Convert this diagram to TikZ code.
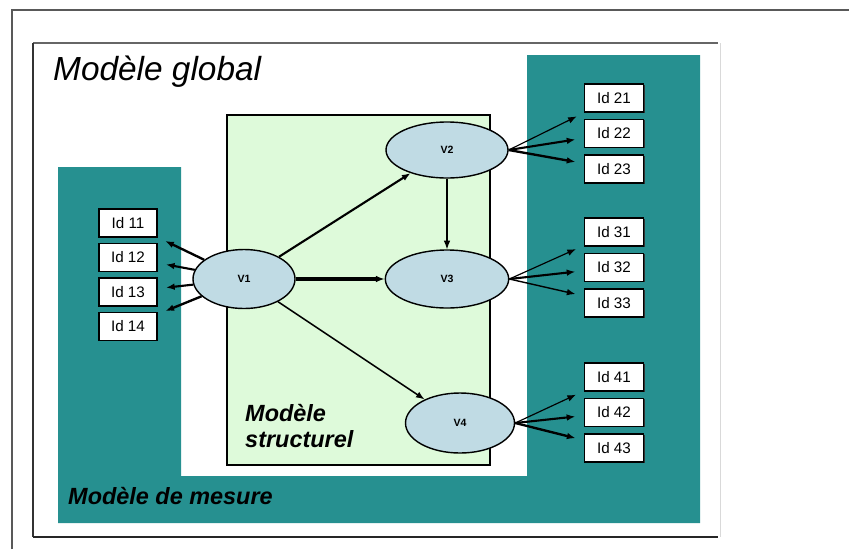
\documentclass[tikz,border=0pt]{standalone}
\usepackage{fontspec}
\setmainfont{Liberation Sans}
\usepackage{xcolor}
\usepackage{tikz}
\usetikzlibrary{positioning,arrows.meta,shapes.geometric,shadows}

\definecolor{tealmes}{RGB}{38,144,144}
\definecolor{vertstruct}{RGB}{222,250,218}
\definecolor{bleuvar}{RGB}{192,219,228}

\begin{document}
\begin{tikzpicture}[
    x=0.03cm, y=-0.03cm,
    latent/.style={
        ellipse,
        draw,
        line width=1.2pt,
        fill=bleuvar,
        inner sep=0pt,
        font=\bfseries\fontsize{9}{10}\selectfont
    },
    indic/.style={
        draw,
        line width=1.2pt,
        fill=white,
        inner sep=0pt,
        minimum width=1.78cm,
        minimum height=0.84cm,
        general shadow={fill=black!80,shadow xshift=0.9pt,shadow yshift=-0.9pt},
        font=\fontsize{13}{14}\selectfont
    },
    lien/.style={-{Latex[length=2.6mm,width=2mm]}},
    mesure/.style={lien,shorten >=0.25cm},
    >=Latex
]
\useasboundingbox (0,0) rectangle (849,549);

% Frames
\draw[gray!70!black,line width=1.6pt] (12,549) -- (12,10) -- (849,10);
\draw[black!15,line width=0.6pt] (720,43) -- (720,537);
\draw[gray!80!black,line width=1.4pt] (33,43) -- (718,43);
\draw[black!80,line width=1pt] (33,43) -- (33,537);
\draw[black!85,line width=2.4pt] (33,537) -- (718,537);

% Zones
\fill[tealmes] (58,167) -- (181,167) -- (181,476) -- (527,476) -- (527,55)
    -- (700,55) -- (700,523) -- (58,523) -- cycle;
\draw[fill=vertstruct,line width=1.3pt] (227,115) rectangle (490,465);

% Titles
\node[anchor=base west,inner sep=0pt,font=\itshape\fontsize{28.5}{30}\selectfont] (titre) at (53,80) {Modèle global};
\node[anchor=base west,inner sep=0pt,font=\bfseries\itshape\fontsize{20}{22}\selectfont] (txtmesure) at (68,504) {Modèle de mesure};
\node[anchor=west,align=left,inner sep=0pt,font=\bfseries\itshape\fontsize{20}{22}\selectfont] (txtstruct) at (245,426) {Modèle\\structurel};

% Latent variables
\node[latent,minimum width=3.06cm,minimum height=1.77cm] (V1) at (244,279) {V1};
\node[latent,minimum width=3.66cm,minimum height=1.68cm] (V2) at (447,150) {V2};
\node[latent,minimum width=3.7cm,minimum height=1.74cm] (V3) at (447,279) {V3};
\node[latent,minimum width=3.27cm,minimum height=1.8cm] (V4) at (460,423) {V4};

% Indicators
\node[indic,minimum width=1.74cm] (Id11) at (128,223) {Id 11};
\node[indic,minimum width=1.74cm,below=0.15cm of Id11] (Id12) {Id 12};
\node[indic,minimum width=1.74cm,below=0.15cm of Id12] (Id13) {Id 13};
\node[indic,minimum width=1.74cm,below=0.15cm of Id13] (Id14) {Id 14};

\node[indic] (Id21) at (614,98) {Id 21};
\node[indic,below=0.18cm of Id21] (Id22) {Id 22};
\node[indic,below=0.18cm of Id22] (Id23) {Id 23};

\node[indic] (Id31) at (614,232) {Id 31};
\node[indic,below=0.18cm of Id31] (Id32) {Id 32};
\node[indic,below=0.18cm of Id32] (Id33) {Id 33};

\node[indic] (Id41) at (614,377) {Id 41};
\node[indic,below=0.18cm of Id41] (Id42) {Id 42};
\node[indic,below=0.18cm of Id42] (Id43) {Id 43};

% Structural links
\draw[lien,line width=1.8pt] (V1) -- (V2);
\draw[lien,line width=3pt] (V1) -- (V3);
\draw[lien,line width=1.3pt] (V1) -- (V4);
\draw[lien,line width=1pt] (V2) -- (V3);

% Measurement links
\draw[mesure,line width=2pt] (V1) -- (Id11);
\draw[mesure,line width=1.8pt] (V1) -- (Id12);
\draw[mesure,line width=1.8pt] (V1) -- (Id13);
\draw[mesure,line width=2pt] (V1) -- (Id14);

\draw[mesure,line width=1pt] (V2.east) -- (Id21);
\draw[mesure,line width=1.8pt] (V2.east) -- (Id22);
\draw[mesure,line width=2pt] (V2.east) -- (Id23);

\draw[mesure,line width=1pt] (V3.east) -- (Id31);
\draw[mesure,line width=1.8pt] (V3.east) -- (Id32);
\draw[mesure,line width=1.2pt] (V3.east) -- (Id33);

\draw[mesure,line width=1pt] (V4.east) -- (Id41);
\draw[mesure,line width=1.8pt] (V4.east) -- (Id42);
\draw[mesure,line width=2pt] (V4.east) -- (Id43);

\end{tikzpicture}
\end{document}
